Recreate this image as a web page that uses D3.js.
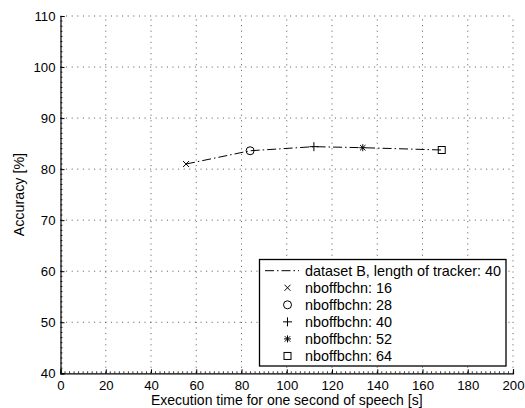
<!DOCTYPE html>
<html>
<head>
<meta charset="utf-8">
<script src="https://cdn.jsdelivr.net/npm/d3@7"></script>
<style>
  html, body { margin: 0; padding: 0; background: #fff; }
  svg { display: block; font-family: "Liberation Sans", Arial, Helvetica, sans-serif; }
</style>
</head>
<body>
<svg id="chart" width="525" height="408"></svg>
<script>
// Execution time vs. accuracy for different nboffbchn settings
const execTime = [55.5, 83.8, 112.0, 133.6, 168.5];
const accuracy = [81.0, 83.6, 84.4, 84.2, 83.75];
const nbLabels = ["nboffbchn: 16", "nboffbchn: 28", "nboffbchn: 40", "nboffbchn: 52", "nboffbchn: 64"];
const markerKinds = ["cross", "circle", "plus", "star", "square"];
const lineLabel = "dataset B, length of tracker: 40";
const xTicks = [0, 20, 40, 60, 80, 100, 120, 140, 160, 180, 200];
const yTicks = [40, 50, 60, 70, 80, 90, 100, 110];

const svg = d3.select("#chart");
const plotLeft = 60.5, plotRight = 513, plotTop = 16, plotBottom = 373.3;

const x = d3.scaleLinear().domain([0, 200]).range([plotLeft, plotRight]);
const y = d3.scaleLinear().domain([40, 110]).range([plotBottom, plotTop]);

// dotted grid
const grid = svg.append("g").attr("stroke", "#444").attr("stroke-width", 0.9)
  .attr("stroke-dasharray", "1,4.6").attr("fill", "none");
xTicks.filter(d => d > 0).forEach(d => {
  grid.append("line").attr("x1", x(d)).attr("x2", x(d)).attr("y1", plotBottom).attr("y2", plotTop);
});
yTicks.filter(d => d > 40).forEach(d => {
  grid.append("line").attr("x1", plotLeft).attr("x2", plotRight).attr("y1", y(d)).attr("y2", y(d));
});

// axes with inward ticks
const xAxis = d3.axisBottom(x).tickValues(xTicks).tickSize(-4).tickPadding(7).tickFormat(d3.format("d"));
const yAxis = d3.axisLeft(y).tickValues(yTicks).tickSize(-4).tickPadding(5).tickFormat(d3.format("d"));

const gx = svg.append("g").attr("transform", `translate(0,${plotBottom})`).call(xAxis);
const gy = svg.append("g").attr("transform", `translate(${plotLeft},0)`).call(yAxis);
[gx, gy].forEach(g => {
  g.select(".domain").attr("stroke", "#000").attr("stroke-width", 1.2);
  g.selectAll(".tick line").attr("stroke", "#000");
  g.selectAll(".tick text").attr("fill", "#000").attr("font-size", 13.2)
    .attr("font-family", "'Liberation Sans', Arial, sans-serif");
});

// minor ticks
const minor = svg.append("g").attr("stroke", "#000").attr("stroke-width", 0.8);
d3.range(0, 200, 2).forEach(d => {
  minor.append("line").attr("x1", x(d)).attr("x2", x(d)).attr("y1", plotBottom).attr("y2", plotBottom - 2);
});
d3.range(40, 110, 1).forEach(d => {
  minor.append("line").attr("x1", plotLeft).attr("x2", plotLeft + 2).attr("y1", y(d)).attr("y2", y(d));
});

// axis titles
svg.append("text").attr("x", x(100)).attr("y", 405).attr("text-anchor", "middle")
  .attr("font-size", 14).text("Execution time for one second of speech [s]");
svg.append("text").attr("transform", `translate(24,${y(75)}) rotate(-90)`)
  .attr("text-anchor", "middle").attr("font-size", 14.3).text("Accuracy [%]");

// dash-dot line
const line = d3.line().x((d, i) => x(execTime[i])).y(d => y(d));
svg.append("path").datum(accuracy).attr("d", line).attr("fill", "none")
  .attr("stroke", "#000").attr("stroke-width", 1).attr("stroke-dasharray", "9,3,1.5,3");

function drawMarker(g, kind, cx, cy) {
  const s = g.append("g").attr("transform", `translate(${cx},${cy})`)
    .attr("stroke", "#000").attr("stroke-width", 1).attr("fill", "none");
  if (kind === "cross") {
    s.append("path").attr("d", "M-3,-3L3,3M-3,3L3,-3");
  } else if (kind === "circle") {
    s.append("circle").attr("r", 4);
  } else if (kind === "plus") {
    s.append("path").attr("d", "M-4.5,0L4.5,0M0,-4.5L0,4.5");
  } else if (kind === "star") {
    s.append("path").attr("d", "M-3.5,0L3.5,0M0,-3.5L0,3.5M-2.7,-2.7L2.7,2.7M-2.7,2.7L2.7,-2.7");
  } else if (kind === "square") {
    s.append("rect").attr("x", -3.5).attr("y", -3.5).attr("width", 7).attr("height", 7);
  }
}

execTime.forEach((t, i) => drawMarker(svg, markerKinds[i], x(t), y(accuracy[i])));

// legend
const lg = svg.append("g");
const lx = 259.5, ly = 259.5, lw = 246.5, lh = 106.5;
lg.append("rect").attr("x", lx).attr("y", ly).attr("width", lw).attr("height", lh)
  .attr("fill", "#fff").attr("stroke", "#000").attr("stroke-width", 1.3);
const rowY = i => 270.7 + i * 17.05;
lg.append("line").attr("x1", 265).attr("x2", 299).attr("y1", rowY(0)).attr("y2", rowY(0))
  .attr("stroke", "#000").attr("stroke-width", 1).attr("stroke-dasharray", "9,3,1.5,3");
lg.append("text").attr("x", 305).attr("y", rowY(0)).attr("dy", "0.35em")
  .attr("font-size", 14.4).text(lineLabel);
nbLabels.forEach((lab, i) => {
  drawMarker(lg, markerKinds[i], 287.5, rowY(i + 1));
  lg.append("text").attr("x", 305).attr("y", rowY(i + 1)).attr("dy", "0.35em")
    .attr("font-size", 14.4).text(lab);
});
</script>
</body>
</html>
